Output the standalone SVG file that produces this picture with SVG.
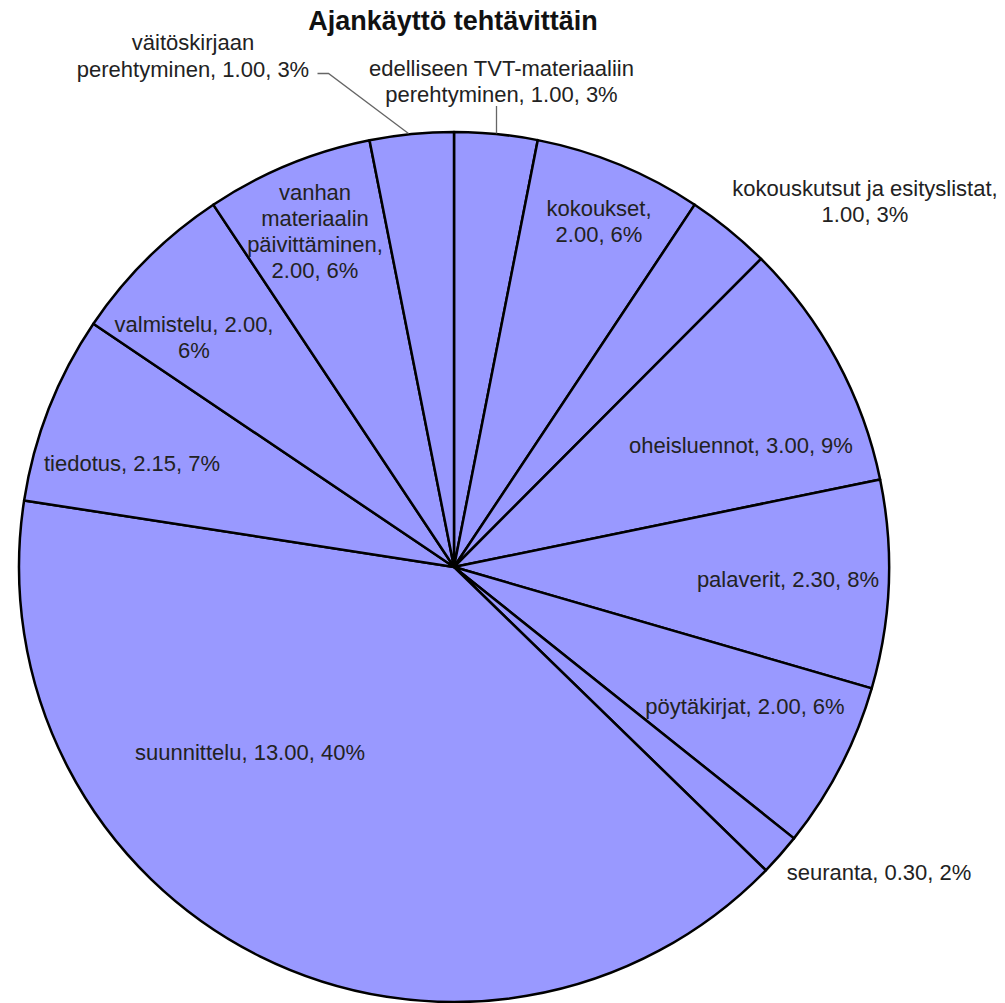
<svg xmlns="http://www.w3.org/2000/svg" width="1005" height="1003" viewBox="0 0 1005 1003">
<style>
.bg{fill:#ffffff}
.slice{fill:#9999ff;stroke:#000;stroke-width:2.5;stroke-linejoin:round}
.lbl{font-family:"Liberation Sans",Arial,sans-serif;font-size:22px;fill:#222;text-anchor:middle}
.title{font-family:"Liberation Sans",Arial,sans-serif;font-size:27px;font-weight:bold;fill:#111;text-anchor:middle}
.leader{fill:none;stroke:#666;stroke-width:1.3}
</style>
<rect class="bg" x="0" y="0" width="1005" height="1003"/>
<text class="title" x="453" y="30">Ajankäyttö tehtävittäin</text>
<g id="slice-edelliseen"><path class="slice" d="M454,567 L454,132 A435,435 0 0 1 537.75,140.14 Z"/></g>
<g id="slice-kokoukset"><path class="slice" d="M454,567 L537.75,140.14 A435,435 0 0 1 694.72,204.68 Z"/></g>
<g id="slice-kokouskutsut"><path class="slice" d="M454,567 L694.72,204.68 A435,435 0 0 1 761.05,258.87 Z"/></g>
<g id="slice-oheisluennot"><path class="slice" d="M454,567 L761.05,258.87 A435,435 0 0 1 880.12,479.53 Z"/></g>
<g id="slice-palaverit"><path class="slice" d="M454,567 L880.12,479.53 A435,435 0 0 1 871.73,688.36 Z"/></g>
<g id="slice-poytakirjat"><path class="slice" d="M454,567 L871.73,688.36 A435,435 0 0 1 793.96,838.39 Z"/></g>
<g id="slice-seuranta"><path class="slice" d="M454,567 L793.96,838.39 A435,435 0 0 1 765.86,870.27 Z"/></g>
<g id="slice-suunnittelu"><path class="slice" d="M454,567 L765.86,870.27 A435,435 0 0 1 24.12,500.45 Z"/></g>
<g id="slice-tiedotus"><path class="slice" d="M454,567 L24.12,500.45 A435,435 0 0 1 93.37,323.75 Z"/></g>
<g id="slice-valmistelu"><path class="slice" d="M454,567 L93.37,323.75 A435,435 0 0 1 213.28,204.68 Z"/></g>
<g id="slice-vanhan"><path class="slice" d="M454,567 L213.28,204.68 A435,435 0 0 1 369.51,140.28 Z"/></g>
<g id="slice-vaitoskirjaan"><path class="slice" d="M454,567 L369.51,140.28 A435,435 0 0 1 454,132 Z"/></g>
<g id="connectors">
<polyline class="leader" points="317.5,73.5 328.5,73.5 408.5,133.5"/>
<line class="leader" x1="496.5" y1="106" x2="496.5" y2="133.5"/>
</g>
<g id="labels">
<text class="lbl" x="193" y="50">väitöskirjaan</text>
<text class="lbl" x="193" y="76.5">perehtyminen, 1.00, 3%</text>
<text class="lbl" x="501.5" y="76">edelliseen TVT-materiaaliin</text>
<text class="lbl" x="501.5" y="101.5">perehtyminen, 1.00, 3%</text>
<text class="lbl" x="865" y="196">kokouskutsut ja esityslistat,</text>
<text class="lbl" x="865" y="222">1.00, 3%</text>
<text class="lbl" x="599" y="216">kokoukset,</text>
<text class="lbl" x="599" y="242">2.00, 6%</text>
<text class="lbl" x="315" y="200">vanhan</text>
<text class="lbl" x="315" y="226">materiaalin</text>
<text class="lbl" x="315" y="252">päivittäminen,</text>
<text class="lbl" x="315" y="278">2.00, 6%</text>
<text class="lbl" x="194" y="332">valmistelu, 2.00,</text>
<text class="lbl" x="194" y="358">6%</text>
<text class="lbl" x="132" y="470.5">tiedotus, 2.15, 7%</text>
<text class="lbl" x="741" y="453">oheisluennot, 3.00, 9%</text>
<text class="lbl" x="788" y="586.5">palaverit, 2.30, 8%</text>
<text class="lbl" x="745" y="714">pöytäkirjat, 2.00, 6%</text>
<text class="lbl" x="250" y="760">suunnittelu, 13.00, 40%</text>
<text class="lbl" x="879" y="880">seuranta, 0.30, 2%</text>
</g>
</svg>
